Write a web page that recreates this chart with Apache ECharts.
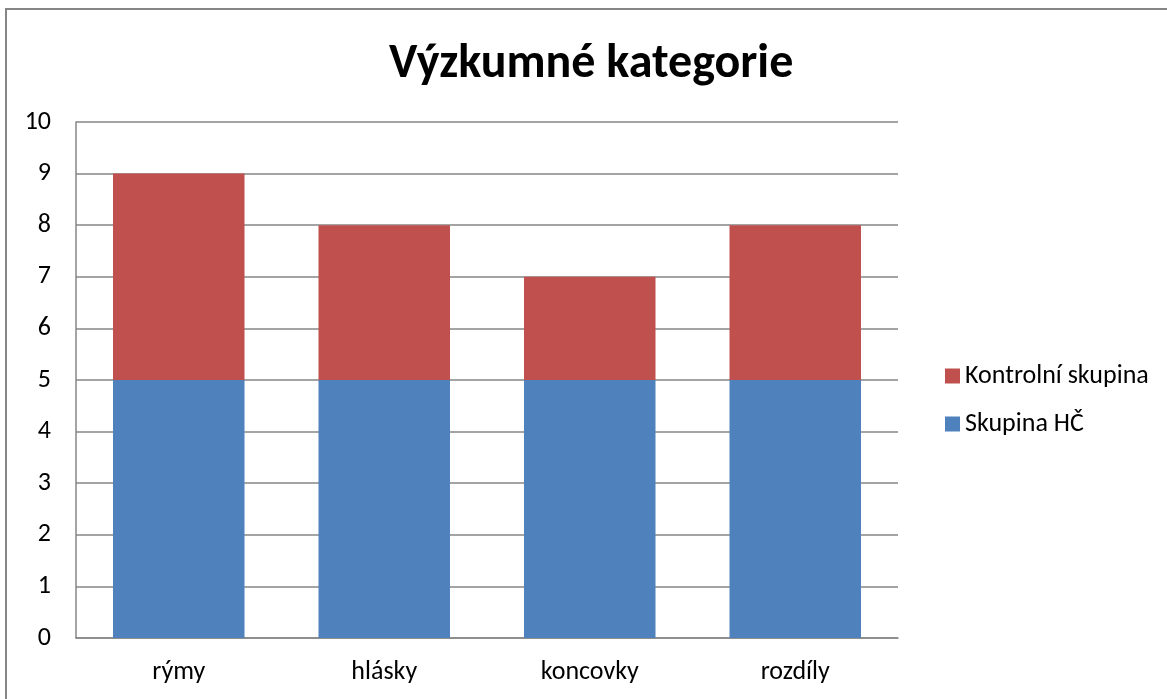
<!DOCTYPE html>
<html>
<head>
<meta charset="utf-8">
<script src="https://cdn.jsdelivr.net/npm/echarts@6/dist/echarts.min.js"></script>
<style>
  html, body { margin: 0; padding: 0; background: #fff; }
  #chart { width: 1167px; height: 699px; }
</style>
</head>
<body>
<div id="chart"></div>
<script>
var categories = ['rýmy', 'hlásky', 'koncovky', 'rozdíly'];
var skupinaHC = [5, 5, 5, 5];
var kontrolni = [4, 3, 2, 3];
var yTicks = { min: 0, max: 10, interval: 1 };

var font = 'Carlito, Lato, "Noto Sans", sans-serif';

var myChart = echarts.init(document.getElementById('chart'));

var option = {
  animation: false,
  textStyle: { fontFamily: font },
  title: {
    text: 'Výzkumné kategorie',
    left: 384,
    top: 36,
    textStyle: {
      color: '#000',
      fontSize: 48,
      fontWeight: 'bold',
      fontFamily: font
    }
  },
  graphic: [
    {
      type: 'rect',
      shape: { x: 6, y: 9, width: 1200, height: 800 },
      style: { fill: 'none', stroke: '#868686', lineWidth: 2 },
      silent: true
    }
  ],
  legend: {
    orient: 'vertical',
    left: 940,
    top: 358,
    itemWidth: 15,
    itemHeight: 15,
    itemGap: 22,
    icon: 'rect',
    data: ['Kontrolní skupina', 'Skupina HČ'],
    textStyle: { color: '#000', fontSize: 26, fontFamily: font }
  },
  grid: {
    left: 76,
    right: 269,
    top: 122,
    bottom: 61,
    containLabel: false
  },
  xAxis: {
    type: 'category',
    data: categories,
    axisLine: { lineStyle: { color: '#868686', width: 1.5 } },
    axisTick: { show: false },
    axisLabel: { color: '#000', fontSize: 26, margin: 21, fontFamily: font }
  },
  yAxis: {
    type: 'value',
    min: yTicks.min,
    max: yTicks.max,
    interval: yTicks.interval,
    axisLine: { show: true, lineStyle: { color: '#868686', width: 1.5 } },
    axisTick: { show: false },
    axisLabel: { color: '#000', fontSize: 26, margin: 25, fontFamily: font },
    splitLine: { lineStyle: { color: '#868686', width: 1.5 } }
  },
  series: [
    {
      name: 'Skupina HČ',
      type: 'bar',
      stack: 'total',
      barWidth: '64%',
      itemStyle: { color: '#4F81BD' },
      data: skupinaHC
    },
    {
      name: 'Kontrolní skupina',
      type: 'bar',
      stack: 'total',
      barWidth: '64%',
      itemStyle: { color: '#C0504D' },
      data: kontrolni
    }
  ]
};

myChart.setOption(option);
</script>
</body>
</html>
